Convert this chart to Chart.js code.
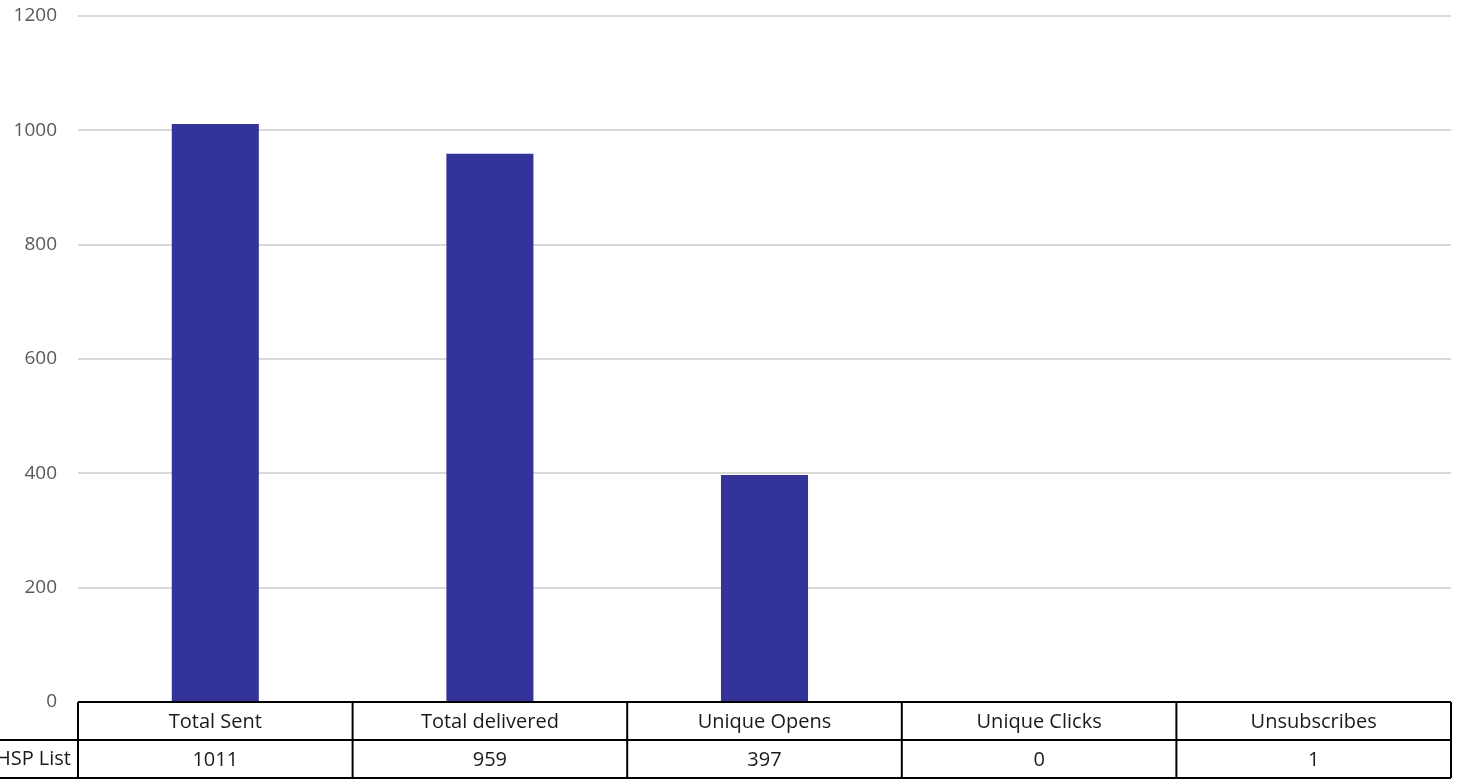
<!DOCTYPE html>
<html>
<head>
<meta charset="utf-8">
<script src="https://cdn.jsdelivr.net/npm/chart.js@4.4.1/dist/chart.umd.min.js"></script>
<style>
  html, body { margin: 0; padding: 0; background: #fff; }
  #wrap { width: 1459px; height: 781px; }
</style>
</head>
<body>
<div id="wrap"><canvas id="chart"></canvas></div>
<script>
// chart data
const categories = ['Total Sent', 'Total delivered', 'Unique Opens', 'Unique Clicks', 'Unsubscribes'];
const seriesName = 'HSP List';
const hspValues = [1011, 959, 397, 0, 1];
const yTicks = [0, 200, 400, 600, 800, 1000, 1200];

const fontFamily = "'Open Sans', 'Noto Sans', sans-serif";

// Draws the data table under the plot, using the x scale for column edges
const dataTable = {
    id: 'dataTable',
    afterDraw(chart) {
        const ctx = chart.ctx;
        const x = chart.scales.x;
        const area = chart.chartArea;
        const rowH = 38;
        const top = area.bottom;
        const mid = top + rowH;
        const bottom = mid + rowH;
        const step = x.getPixelForValue(1) - x.getPixelForValue(0);
        const edges = categories.map((c, i) => x.getPixelForValue(i) - step / 2);
        edges.push(x.getPixelForValue(categories.length - 1) + step / 2);

        ctx.save();
        ctx.strokeStyle = '#000';
        ctx.lineWidth = 2;
        ctx.beginPath();
        ctx.moveTo(edges[0], top);
        ctx.lineTo(edges[edges.length - 1], top);
        ctx.moveTo(0, mid);
        ctx.lineTo(edges[edges.length - 1], mid);
        ctx.moveTo(0, bottom);
        ctx.lineTo(edges[edges.length - 1], bottom);
        edges.forEach(e => {
            ctx.moveTo(e, top);
            ctx.lineTo(e, bottom);
        });
        ctx.stroke();

        ctx.fillStyle = '#1a1a1a';
        ctx.font = '20px ' + fontFamily;
        ctx.textBaseline = 'middle';
        ctx.textAlign = 'center';
        categories.forEach((c, i) => {
            const cx = x.getPixelForValue(i);
            ctx.fillText(c, cx, top + rowH / 2 + 1);
            ctx.fillText(String(hspValues[i]), cx, mid + rowH / 2 + 1);
        });
        ctx.textAlign = 'right';
        ctx.fillText(seriesName, edges[0] - 7, mid + rowH / 2);
        ctx.restore();
    }
};

const ctx = document.getElementById('chart').getContext('2d');
const chart = new Chart(ctx, {
    type: 'bar',
    data: {
        labels: categories,
        datasets: [{
            label: seriesName,
            data: hspValues,
            backgroundColor: '#343399',
            borderWidth: 0,
            categoryPercentage: 1,
            barPercentage: 0.317
        }]
    },
    options: {
        responsive: true,
        maintainAspectRatio: false,
        animation: false,
        layout: {
            padding: { top: 16, right: 8, bottom: 79, left: 0 }
        },
        plugins: {
            legend: { display: false },
            tooltip: { enabled: false }
        },
        scales: {
            x: {
                display: false
            },
            y: {
                min: 0,
                max: 1200,
                afterBuildTicks: function(scale) {
                    scale.ticks = yTicks.map(v => ({ value: v }));
                },
                afterFit: function(scale) {
                    scale.width = 78;
                    scale.paddingTop = 0;
                    scale.paddingBottom = 0;
                },
                border: { display: false },
                grid: {
                    color: '#d9d9d9',
                    lineWidth: 2,
                    drawTicks: false
                },
                ticks: {
                    padding: 21,
                    color: '#595959',
                    font: { family: fontFamily, size: 19 },
                    callback: function(value) { return String(value); }
                }
            }
        }
    },
    plugins: [dataTable]
});
</script>
</body>
</html>
